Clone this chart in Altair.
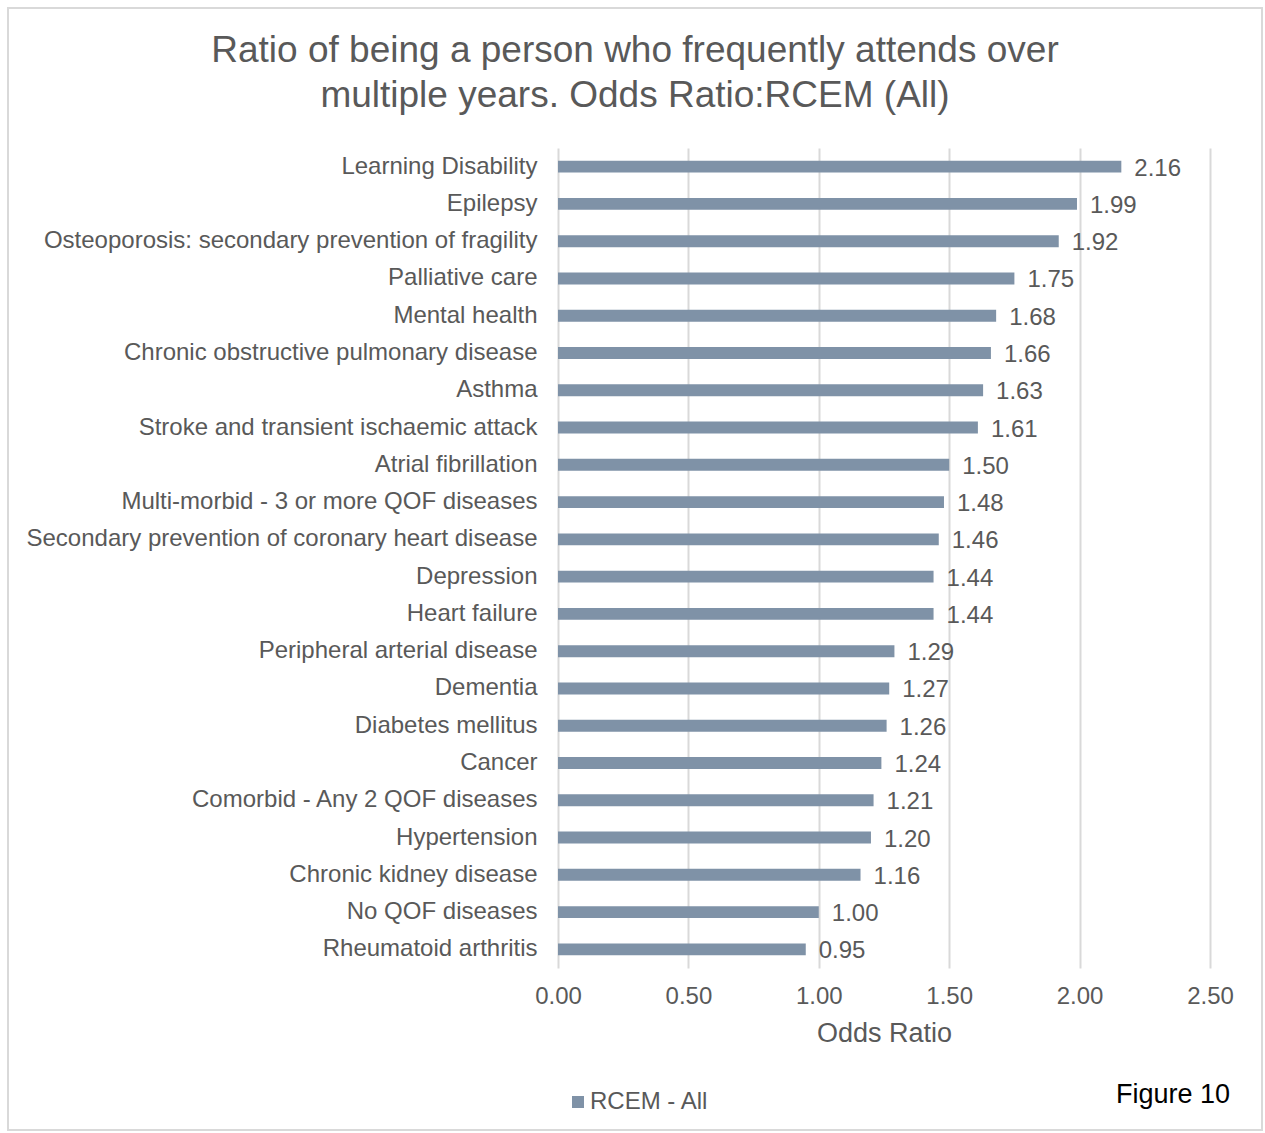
import altair as alt
import pandas as pd

# Conditions and their odds ratios (frequent attendance over multiple years, RCEM - All)
conditions = [
    "Learning Disability",
    "Epilepsy",
    "Osteoporosis: secondary prevention of fragility",
    "Palliative care",
    "Mental health",
    "Chronic obstructive pulmonary disease",
    "Asthma",
    "Stroke and transient ischaemic attack",
    "Atrial fibrillation",
    "Multi-morbid - 3 or more QOF diseases",
    "Secondary prevention of coronary heart disease",
    "Depression",
    "Heart failure",
    "Peripheral arterial disease",
    "Dementia",
    "Diabetes mellitus",
    "Cancer",
    "Comorbid - Any 2 QOF diseases",
    "Hypertension",
    "Chronic kidney disease",
    "No QOF diseases",
    "Rheumatoid arthritis",
]
odds_ratios = [2.16, 1.99, 1.92, 1.75, 1.68, 1.66, 1.63, 1.61, 1.50, 1.48, 1.46,
               1.44, 1.44, 1.29, 1.27, 1.26, 1.24, 1.21, 1.20, 1.16, 1.00, 0.95]
series_name = "RCEM - All"
x_ticks = [0.0, 0.5, 1.0, 1.5, 2.0, 2.5]

df = pd.DataFrame({"condition": conditions, "odds": odds_ratios, "series": series_name})

FONT = "Liberation Sans"
GREY = "#595959"
BAR = "#7F92A7"

W, H = 652, 820
PAD_L, PAD_T = 558, 148

base = alt.Chart(df)

bars = base.mark_bar(color=BAR).encode(
    y=alt.Y("condition:N", sort=conditions, title=None,
            scale=alt.Scale(paddingInner=0.68, paddingOuter=0.34),
            axis=alt.Axis(labelFontSize=24, labelColor=GREY, labelFont=FONT,
                          labelPadding=21, ticks=False, domain=False, labelLimit=700)),
    x=alt.X("odds:Q", title="Odds Ratio",
            scale=alt.Scale(domain=[0, 2.5], nice=False),
            axis=alt.Axis(values=x_ticks, format=".2f", labelFontSize=24,
                          labelColor=GREY, labelFont=FONT, labelPadding=16,
                          labelFlush=False,
                          ticks=False, domain=False, grid=True, gridColor="#D9D9D9",
                          gridWidth=2, titleFontSize=27, titleColor=GREY,
                          titleFont=FONT, titleFontWeight="normal", titlePadding=12)),
    color=alt.Color("series:N",
                    scale=alt.Scale(domain=[series_name], range=[BAR]),
                    legend=alt.Legend(title=None, orient="none", legendX=8, legendY=942,
                                      symbolType="square", symbolSize=144,
                                      labelFontSize=24, labelColor=GREY, labelFont=FONT,
                                      symbolStrokeWidth=0, labelOffset=0)),
)

labels = base.mark_text(align="left", baseline="middle", dx=13, dy=2,
                        fontSize=24, font=FONT, color=GREY).encode(
    y=alt.Y("condition:N", sort=conditions),
    x=alt.X("odds:Q"),
    text=alt.Text("odds:Q", format=".2f"),
)

caption = alt.Chart(pd.DataFrame({"t": ["Figure 10"]})).mark_text(
    align="right", baseline="middle", fontSize=27, font=FONT, color="#000000"
).encode(x=alt.value(672), y=alt.value(947), text="t:N")

# light grey border drawn around the whole figure
frame = alt.Chart(pd.DataFrame({"t": [0]})).mark_rect(
    fill=None, stroke="#D9D9D9", strokeWidth=2
).encode(x=alt.value(8 - PAD_L), x2=alt.value(1262 - PAD_L),
         y=alt.value(8 - PAD_T), y2=alt.value(1130 - PAD_T))

# the border widens the group bounds up to y=-141, so the title offset is
# measured back down from there
chart = alt.layer(frame, bars, labels, caption).properties(
    width=W, height=H,
    title=alt.TitleParams(
        ["Ratio of being a person who frequently attends over",
         "multiple years. Odds Ratio:RCEM (All)"],
        fontSize=37, font=FONT, color=GREY, fontWeight="normal",
        anchor="middle", frame="group", baseline="bottom", dx=-249, offset=-145,
        lineHeight=45),
    autosize=alt.AutoSizeParams(type="none"),
    padding={"left": PAD_L, "top": PAD_T, "right": 1265 - PAD_L - W, "bottom": 1133 - PAD_T - H},
).configure(background="white").configure_view(stroke=None)

chart.save("out.html", embed_options={"renderer": "svg", "actions": False})
